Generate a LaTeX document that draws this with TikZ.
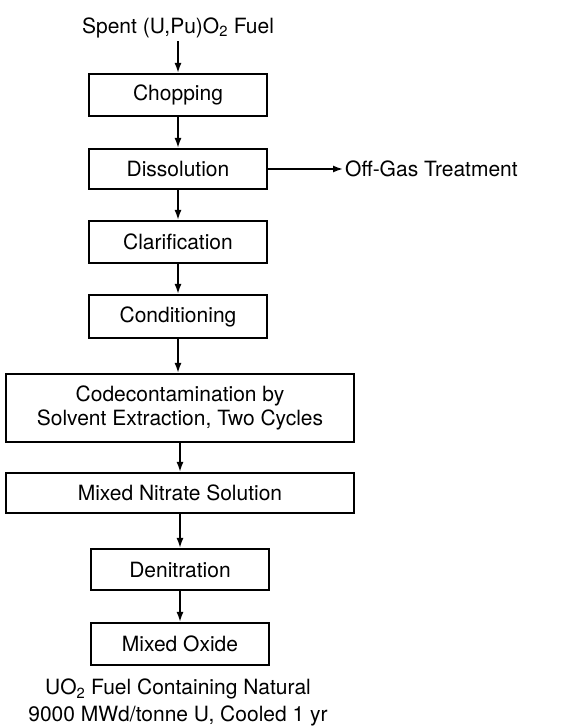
\documentclass[tikz,border=0pt]{standalone}
\usepackage{fontspec}
\setmainfont{TeX Gyre Heros}
\usetikzlibrary{arrows.meta}
\begin{document}
\begin{tikzpicture}[x=1pt, y=-1pt,
    font=\fontsize{21}{24}\selectfont,
    stepbox/.style={draw, line width=2.2pt, minimum width=178pt, minimum height=42pt, inner sep=0pt, align=center},
    widebox/.style={stepbox, minimum width=348pt},
    flow/.style={-{Latex[length=10pt,width=7pt]}, line width=1.6pt}]
    \useasboundingbox (0,0) rectangle (581,726);

    \node[anchor=base] (spent) at (178,33) {Spent (U,Pu)O\textsubscript{2} Fuel};
    \node[stepbox] (chop) at (178,95) {Chopping};
    \node[stepbox, minimum height=40pt] (diss) at (178,169) {Dissolution};
    \node[stepbox] (clar) at (178,242) {Clarification};
    \node[stepbox, minimum height=43pt] (cond) at (178,316.5) {Conditioning};
    \node[widebox, minimum height=68pt] (codec) at (180,408) {Codecontamination by\\Solvent Extraction, Two Cycles};
    \node[widebox, minimum height=40pt] (nitr) at (180,493) {Mixed Nitrate Solution};
    \node[stepbox, minimum height=41pt] (denit) at (180,569.5) {Denitration};
    \node[stepbox] (mox) at (180,644) {Mixed Oxide};
    \node[anchor=west, inner sep=2pt] (offgas) at (343,169) {Off-Gas Treatment};
    \node[anchor=north, inner sep=0pt, align=center, font=\fontsize{21}{26.5}\selectfont] (prod) at (178,679)
        {UO\textsubscript{2} Fuel Containing Natural\\9000 MWd/tonne U, Cooled 1 yr};

    \draw[flow] (spent) -- (chop);
    \draw[flow] (chop) -- (diss);
    \draw[flow] (diss) -- (clar);
    \draw[flow] (clar) -- (cond);
    \draw[flow] (cond.south) -- (cond.south |- codec.north);
    \draw[flow] (codec) -- (nitr);
    \draw[flow] (nitr.south -| denit.north) -- (denit);
    \draw[flow] (denit) -- (mox);
    \draw[flow] (diss) -- (offgas);
\end{tikzpicture}
\end{document}
